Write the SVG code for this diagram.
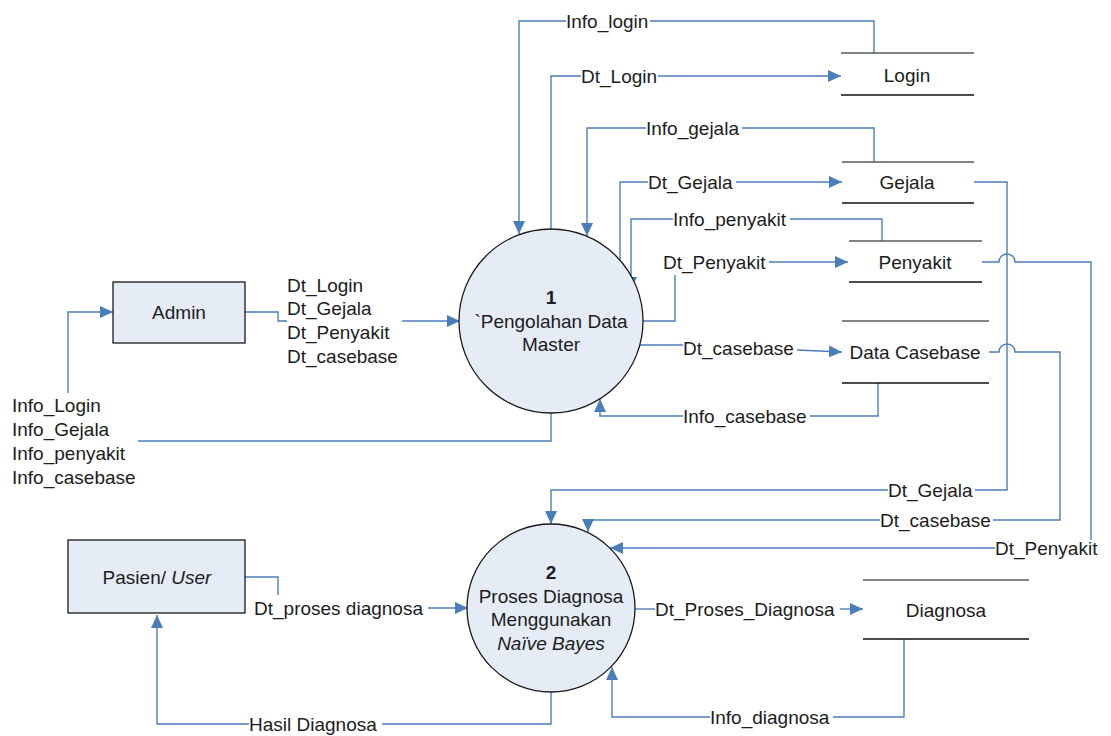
<svg xmlns="http://www.w3.org/2000/svg" width="1111" height="736" viewBox="0 0 1111 736">
  <style>
    text { font-family: "Liberation Sans", Arial, sans-serif; font-size: 19px; fill: #1c1c1c; }
    .c { text-anchor: middle; }
    .b { font-weight: bold; }
    .i { font-style: italic; }
    .flow { fill: none; stroke: #4a7ebb; stroke-width: 1.4; }
    .arr { marker-end: url(#ah); }
    .proc { fill: #e6ecf6; stroke: #1a1a1a; stroke-width: 1.3; }
    .ent { fill: #e6ecf6; stroke: #1a1a1a; stroke-width: 1.3; }
    .top { stroke: #5a5a5a; stroke-width: 1.6; }
    .bot { stroke: #111; stroke-width: 1.4; }
  </style>
  <defs>
    <marker id="ah" markerUnits="userSpaceOnUse" markerWidth="13" markerHeight="12" refX="13" refY="6" orient="auto">
      <path d="M0,0 L13,6 L0,12 z" fill="#4a7ebb"/>
    </marker>
  </defs>
  <rect width="1111" height="736" fill="#fff"/>

  <!-- data flows -->
  <g id="connectors">
    <!-- Info_login -->
    <path class="flow" d="M874,53 V21 H650"/>
    <path class="flow arr" d="M566,21 H519 V234"/>
    <!-- Dt_Login -->
    <path class="flow" d="M551,229 V76 H581"/>
    <path class="flow arr" d="M658,76 H841"/>
    <!-- Info_gejala -->
    <path class="flow" d="M874,162 V128 H742"/>
    <path class="flow arr" d="M646,128 H587 V236"/>
    <!-- Dt_Gejala -->
    <path class="flow" d="M620,260 V182 H648"/>
    <path class="flow arr" d="M736,182 H842"/>
    <!-- Info_penyakit -->
    <path class="flow" d="M882,241 V219 H790"/>
    <path class="flow arr" d="M673,219 H631 V290"/>
    <!-- Dt_Penyakit -->
    <path class="flow" d="M642,321 H675 V275"/>
    <path class="flow arr" d="M769,262 H848"/>
    <!-- Dt_casebase -->
    <path class="flow" d="M640,345 H683"/>
    <path class="flow arr" d="M797,350 L842,352"/>
    <!-- Info_casebase -->
    <path class="flow" d="M878,383 V416 H810"/>
    <path class="flow arr" d="M683,416 H600 V399"/>
    <!-- Admin to process 1 -->
    <path class="flow" d="M245,312 H278 V321 H287"/>
    <path class="flow arr" d="M402,321 H460"/>
    <!-- process 1 back to Admin -->
    <path class="flow" d="M551,413 V441 H138"/>
    <path class="flow arr" d="M68,393 V312 H113"/>
    <!-- Gejala to process 2 -->
    <path class="flow" d="M974,182 H1007 V490 H975"/>
    <path class="flow arr" d="M888,490 H551 V524"/>
    <!-- Data Casebase to process 2 -->
    <path class="flow" d="M989,352 H999 a8,8 0 0 1 16,0 H1060 V520 H993"/>
    <path class="flow arr" d="M880,520 H588 V532"/>
    <!-- Penyakit to process 2 -->
    <path class="flow" d="M982,262 H999 a8,8 0 0 1 16,0 H1091 V540"/>
    <path class="flow arr" d="M995,548 H610"/>
    <!-- Pasien to process 2 -->
    <path class="flow" d="M245,577 H278 V595"/>
    <path class="flow arr" d="M428,608 H468"/>
    <!-- process 2 to Diagnosa -->
    <path class="flow" d="M635,609 H655"/>
    <path class="flow arr" d="M840,609 H863"/>
    <!-- Info_diagnosa -->
    <path class="flow" d="M904,639 V717 H833"/>
    <path class="flow arr" d="M710,717 H612 V667"/>
    <!-- Hasil Diagnosa -->
    <path class="flow" d="M551,692 V724 H382"/>
    <path class="flow arr" d="M249,724 H157 V615"/>

    <text x="566" y="28">Info_login</text>
    <text x="581" y="83">Dt_Login</text>
    <text x="646" y="135">Info_gejala</text>
    <text x="648" y="189">Dt_Gejala</text>
    <text x="673" y="226">Info_penyakit</text>
    <text x="663" y="269">Dt_Penyakit</text>
    <text x="683" y="355">Dt_casebase</text>
    <text x="683" y="423">Info_casebase</text>
    <text x="287" y="292">Dt_Login</text>
    <text x="287" y="315">Dt_Gejala</text>
    <text x="287" y="339">Dt_Penyakit</text>
    <text x="287" y="363">Dt_casebase</text>
    <text x="12" y="412">Info_Login</text>
    <text x="12" y="436">Info_Gejala</text>
    <text x="12" y="460">Info_penyakit</text>
    <text x="12" y="484">Info_casebase</text>
    <text x="888" y="497">Dt_Gejala</text>
    <text x="880" y="527">Dt_casebase</text>
    <text x="995" y="555">Dt_Penyakit</text>
    <text x="254" y="615">Dt_proses diagnosa</text>
    <text x="655" y="616">Dt_Proses_Diagnosa</text>
    <text x="249" y="731">Hasil Diagnosa</text>
    <text x="710" y="724">Info_diagnosa</text>
  </g>

  <!-- external entities -->
  <g id="admin">
    <rect class="ent" x="113" y="282" width="132" height="61"/>
    <text class="c" x="179" y="319">Admin</text>
  </g>
  <g id="pasien">
    <rect class="ent" x="68" y="540" width="177" height="73"/>
    <text class="c" x="157" y="584">Pasien/ <tspan class="i">User</tspan></text>
  </g>

  <!-- processes -->
  <g id="proses1">
    <circle class="proc" cx="551" cy="321" r="92"/>
    <text class="c b" x="551" y="304">1</text>
    <text class="c" x="551" y="328">`Pengolahan Data</text>
    <text class="c" x="551" y="351">Master</text>
  </g>
  <g id="proses2">
    <circle class="proc" cx="551" cy="608" r="84"/>
    <text class="c b" x="551" y="579">2</text>
    <text class="c" x="551" y="603">Proses Diagnosa</text>
    <text class="c" x="551" y="626">Menggunakan</text>
    <text class="c i" x="551" y="650">Naïve Bayes</text>
  </g>

  <!-- data stores -->
  <g id="login">
    <line class="top" x1="841" y1="53" x2="974" y2="53"/>
    <line class="bot" x1="841" y1="95" x2="974" y2="95"/>
    <text class="c" x="907" y="82">Login</text>
  </g>
  <g id="gejala">
    <line class="top" x1="842" y1="162" x2="974" y2="162"/>
    <line class="bot" x1="842" y1="203" x2="974" y2="203"/>
    <text class="c" x="907" y="189">Gejala</text>
  </g>
  <g id="penyakit">
    <line class="top" x1="849" y1="241" x2="982" y2="241"/>
    <line class="bot" x1="849" y1="282" x2="982" y2="282"/>
    <text class="c" x="915" y="269">Penyakit</text>
  </g>
  <g id="casebase">
    <line class="top" x1="842" y1="321" x2="989" y2="321"/>
    <line class="bot" x1="842" y1="383" x2="989" y2="383"/>
    <text class="c" x="915" y="359">Data Casebase</text>
  </g>
  <g id="diagnosa">
    <line class="top" x1="863" y1="580" x2="1029" y2="580"/>
    <line class="bot" x1="863" y1="639" x2="1029" y2="639"/>
    <text class="c" x="946" y="617">Diagnosa</text>
  </g>
</svg>
